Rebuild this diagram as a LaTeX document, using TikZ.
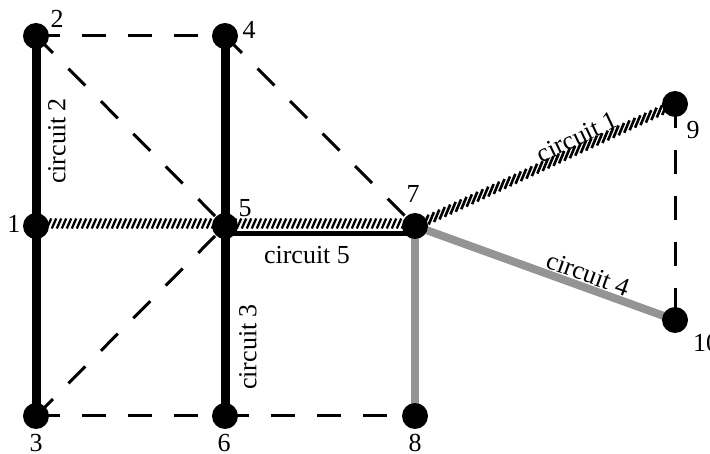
\documentclass[tikz,border=0pt]{standalone}
\usepackage{fontspec}
\setmainfont{Liberation Serif}
\usetikzlibrary{decorations.markings,backgrounds}
\begin{document}
\begin{tikzpicture}[x=1pt,y=-1pt,
  dot/.style={circle,fill=black,minimum size=26pt,inner sep=0pt},
  num/.style={font=\fontsize{26}{26}\selectfont,inner sep=0pt},
  lab/.style={font=\fontsize{26}{26}\selectfont,inner sep=0pt},
  heavy/.style={line width=9pt},
  dashedline/.style={line width=3pt,dash pattern=on 24pt off 22pt},
  grayline/.style={line width=8pt,draw=black!42},
  hatchband/.style={line width=10pt,draw=white,postaction={decorate,decoration={markings,
     mark=between positions 3pt and -3pt step 5pt with {\draw[line width=2.3pt,black] (-2.2pt,-5pt) -- (2.2pt,5pt);}}}},
  rope/.style={line width=10pt,draw=white,postaction={decorate,decoration={markings,
     mark=between positions 6pt and -6pt step 6pt with {\draw[line width=2.6pt,black] (-5pt,-4.5pt) -- (5pt,4.5pt);}}}}
]
\useasboundingbox (0,0) rectangle (710,454);
% dots
\node[dot] (n1) at (36,226) {};
\node[dot] (n2) at (36,36) {};
\node[dot] (n3) at (36,416) {};
\node[dot] (n4) at (225,36) {};
\node[dot] (n5) at (225,226) {};
\node[dot] (n6) at (225,416) {};
\node[dot] (n7) at (415,226) {};
\node[dot] (n8) at (415,416) {};
\node[dot] (n9) at (675,104) {};
\node[dot] (n10) at (675,320) {};
% number labels
\node[num] (l1) at (14,224) {1};
\node[num] (l2) at (57,19) {2};
\node[num] (l3) at (36,443) {3};
\node[num] (l4) at (249,30) {4};
\node[num] (l5) at (245,208) {5};
\node[num] (l6) at (224,443) {6};
\node[num] (l7) at (413,194) {7};
\node[num] (l8) at (415,443) {8};
\node[num] (l9) at (693,130) {9};
\node[num,anchor=west] (l10) at (693,343) {10};
% circuit labels
\node[lab,rotate=90] (c2) at (57,141) {circuit 2};
\node[lab,rotate=90] (c3) at (248,347) {circuit 3};
\node[lab] (c5) at (307,255) {circuit 5};
\node[lab,rotate=25.3] (c1) at (577,137) {circuit 1};
\node[lab,rotate=-19.7] (c4) at (588,274) {circuit 4};
\begin{pgfonlayer}{background}
\draw[dashedline] (n2.center) -- (n4.center);
\draw[dashedline] (n2.center) -- (n5.center);
\draw[dashedline] (n4.center) -- (n7.center);
\draw[dashedline] (n3.center) -- (n5.center);
\draw[dashedline] (n3.center) -- (n6.center);
\draw[dashedline] (n6.center) -- (n8.center);
\draw[dashedline] (n9.center) -- (n10.center);
\draw[heavy] (n2.center) -- (n1.center) -- (n3.center);
\draw[heavy] (n4.center) -- (n5.center) -- (n6.center);
\draw[grayline] (n7.center) -- (n8.center);
\draw[grayline] (n7.center) -- (n10.center);
\draw[line width=5pt] ([yshift=-8pt]n5.center) -- ([yshift=-8pt]n7.center);
\draw[hatchband] ([yshift=2.5pt]n1.center) -- ([yshift=2.5pt]n7.center);
\draw[rope] (n7.center) -- (n9.center);
\end{pgfonlayer}
\end{tikzpicture}
\end{document}
